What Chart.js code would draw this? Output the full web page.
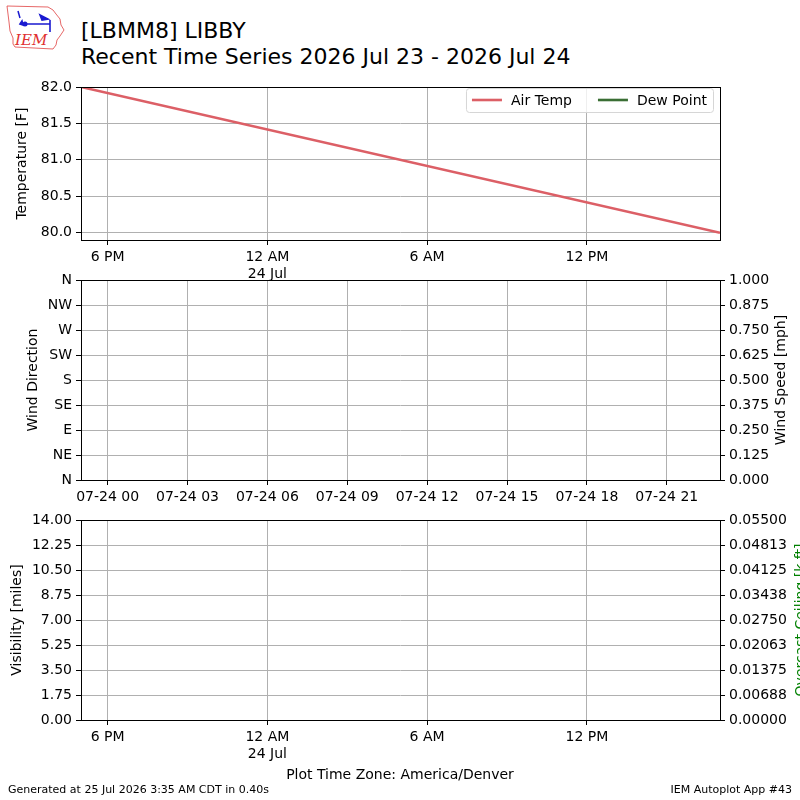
<!DOCTYPE html>
<html>
<head>
<meta charset="utf-8">
<script src="https://cdn.jsdelivr.net/npm/chart.js@4.4.1/dist/chart.umd.min.js"></script>
<style>
body { margin: 0; width: 800px; height: 800px; background: #fff; overflow: hidden; position: relative; font-family: "DejaVu Sans", sans-serif; }
canvas { position: absolute; left: 0; }
.txt { position: absolute; white-space: nowrap; color: #000; }
</style>
</head>
<body>
<svg style="position:absolute;left:0;top:0" width="72" height="54" viewBox="0 0 72 54">
  <path d="M7 6 L48 7 L53 10 L56 14 L60 19 L61 25 L64 30 L60 36 L57 40 L56 45 L53 49 L15 47 L13 44 L13 38 L10 31 L9 22 L8 14 Z" fill="none" stroke="#e04040" stroke-width="0.8"/>
  <path d="M18 11 L20 18" stroke="#1a1ad0" stroke-width="1.5" fill="none"/>
  <circle cx="25" cy="24" r="2.5" fill="#1a1ad0"/>
  <path d="M25 24 L50 24 M50 20 L50 32 M40 15 L48 19 L42 20 Z M20 24 L22 21 L23 25 Z" stroke="#1a1ad0" stroke-width="1.6" fill="#1a1ad0"/>
  <text x="15" y="45" font-family="DejaVu Serif, serif" font-style="italic" font-size="15" fill="#e03030">IEM</text>
</svg>
<div class="txt" style="left:81px;top:17.5px;font-size:22px;line-height:26.5px">[LBMM8] LIBBY<br>Recent Time Series 2026 Jul 23 - 2026 Jul 24</div>

<canvas id="chartTemp" width="800" height="212" style="top:73px"></canvas>
<canvas id="chartWind" width="800" height="244" style="top:266px"></canvas>
<canvas id="chartVis" width="800" height="259" style="top:506px"></canvas>

<div class="txt" style="left:0;width:800px;text-align:center;top:766px;font-size:14px;line-height:17px">Plot Time Zone: America/Denver</div>
<div class="txt" style="left:8px;top:783px;font-size:11px;line-height:14px">Generated at 25 Jul 2026 3:35 AM CDT in 0.40s</div>
<div class="txt" style="right:8px;top:783px;font-size:11px;line-height:14px">IEM Autoplot App #43</div>

<script>
// hours relative to 24 Jul 00:00 America/Denver
var localRange = [-7, 17];
var localTickHours = [-6, 0, 6, 12];
var localTickLabels = ["6 PM", ["12 AM", "24 Jul"], "6 AM", "12 PM"];

// hours relative to 24 Jul 00:00 UTC (wind panel)
var utcRange = [-1, 23];
var utcTickHours = [0, 3, 6, 9, 12, 15, 18, 21];
var utcTickLabels = ["07-24 00", "07-24 03", "07-24 06", "07-24 09", "07-24 12", "07-24 15", "07-24 18", "07-24 21"];

var tempHours = [-7, 17];
var tempValues = [82.0, 80.0];
var dewHours = [];
var dewValues = [];
var tempTicks = [80.0, 80.5, 81.0, 81.5, 82.0];

var windDirHours = [];
var windDirValues = [];
var windSpeedHours = [];
var windSpeedValues = [];
var dirTicks = [0, 45, 90, 135, 180, 225, 270, 315, 360];
var dirTickLabels = ["N", "NE", "E", "SE", "S", "SW", "W", "NW", "N"];
var speedTicks = [0, 0.125, 0.25, 0.375, 0.5, 0.625, 0.75, 0.875, 1.0];

var visHours = [];
var visValues = [];
var ceilHours = [];
var ceilValues = [];
var visTicks = [0, 1.75, 3.5, 5.25, 7, 8.75, 10.5, 12.25, 14];
var ceilTicks = [0, 0.006875, 0.01375, 0.020625, 0.0275, 0.034375, 0.04125, 0.048125, 0.055];
var ceilTickLabels = ["0.00000", "0.00688", "0.01375", "0.02063", "0.02750", "0.03438", "0.04125", "0.04813", "0.05500"];

var FONT = "DejaVu Sans";
var GRID = "#b0b0b0";

function points(xs, ys) {
    var out = [];
    for (var i = 0; i < xs.length; i++) out.push({x: xs[i], y: ys[i]});
    return out;
};

function fixedTicks(values) {
    return function(scale) {
        scale.ticks = values.map(function(v) { return {value: v}; });
    };
};

function axis(extra) {
    var base = {
        type: "linear",
        border: {display: false},
        grid: {color: GRID, lineWidth: 1, tickColor: "#000", tickLength: 5},
        ticks: {color: "#000", font: {family: FONT, size: 14}, padding: 4, autoSkip: false, maxRotation: 0}
    };
    for (var k in extra) {
        if (typeof extra[k] === "object" && base[k] && !Array.isArray(extra[k])) {
            for (var j in extra[k]) base[k][j] = extra[k][j];
        } else {
            base[k] = extra[k];
        }
    }
    return base;
};

// box round the plot, and the right side titles (read bottom to top)
var framePlugin = {
    id: "frame",
    afterDraw: function(chart) {
        var a = chart.chartArea, ctx = chart.ctx;
        ctx.save();
        ctx.strokeStyle = "#000";
        ctx.lineWidth = 1;
        ctx.strokeRect(Math.round(a.left) + 0.5, Math.round(a.top) + 0.5, Math.round(a.right - a.left), Math.round(a.bottom - a.top));
        var side = chart.options.plugins.sideTitle;
        if (side && side.text) {
            ctx.translate(side.x, (a.top + a.bottom) / 2);
            ctx.rotate(-Math.PI / 2);
            ctx.fillStyle = side.color || "#000";
            ctx.font = "14px '" + FONT + "'";
            ctx.textAlign = "center";
            ctx.textBaseline = "middle";
            ctx.fillText(side.text, 0, 0);
        }
        ctx.restore();
    }
};

var legendPlugin = {
    id: "boxLegend",
    afterDraw: function(chart) {
        var opts = chart.options.plugins.boxLegend;
        if (!opts || !opts.display) return;
        var ctx = chart.ctx, a = chart.chartArea;
        ctx.save();
        ctx.font = "14px '" + FONT + "'";
        var sets = chart.data.datasets;
        var w = 12;
        sets.forEach(function(ds, i) { w += 39 + ctx.measureText(ds.label).width + (i > 0 ? 26 : 0); });
        var h = 24, right = a.right - 7, top = a.top + 1, left = right - w;
        ctx.beginPath();
        ctx.roundRect(left + 0.5, top + 0.5, w, h, 3);
        ctx.fillStyle = "rgba(255,255,255,0.8)";
        ctx.fill();
        ctx.strokeStyle = "#d6d6d6";
        ctx.lineWidth = 1;
        ctx.stroke();
        var x = left + 6, y = top + h / 2;
        sets.forEach(function(ds) {
            ctx.strokeStyle = ds.borderColor;
            ctx.lineWidth = ds.borderWidth;
            ctx.beginPath();
            ctx.moveTo(x, y);
            ctx.lineTo(x + 30, y);
            ctx.stroke();
            ctx.fillStyle = "#000";
            ctx.textBaseline = "middle";
            ctx.fillText(ds.label, x + 39, y + 1);
            x += 39 + ctx.measureText(ds.label).width + 26;
        });
        ctx.restore();
    }
};

function lineSet(label, xs, ys, color, axisId) {
    return {
        label: label,
        data: points(xs, ys),
        borderColor: color,
        backgroundColor: color,
        borderWidth: 2.6,
        pointRadius: 0,
        fill: false,
        tension: 0,
        yAxisID: axisId
    };
};

var common = {
    responsive: false,
    animation: false,
    parsing: false
};

var chartTemp = new Chart(document.getElementById("chartTemp").getContext("2d"), {
    type: "line",
    data: {
        datasets: [
            lineSet("Air Temp", tempHours, tempValues, "#dc5f66", "y"),
            lineSet("Dew Point", dewHours, dewValues, "#3a6e34", "y")
        ]
    },
    options: Object.assign({}, common, {
        layout: {padding: {top: 14, right: 80, left: 0, bottom: 0}},
        plugins: {legend: {display: false}, tooltip: {enabled: false}, boxLegend: {display: true}},
        scales: {
            x: axis({
                min: localRange[0], max: localRange[1],
                afterBuildTicks: fixedTicks(localTickHours),
                afterFit: function(s) { s.height = 45; },
                ticks: {callback: function(v, i) { return localTickLabels[i]; }}
            }),
            y: axis({
                min: 79.9, max: 82.0,
                afterBuildTicks: fixedTicks(tempTicks),
                afterFit: function(s) { s.width = 81; },
                ticks: {callback: function(v) { return v.toFixed(1); }},
                title: {display: true, text: "Temperature [F]", color: "#000", font: {family: FONT, size: 14}, padding: {top: 13.6, bottom: 0}}
            })
        }
    }),
    plugins: [framePlugin, legendPlugin]
});

var chartWind = new Chart(document.getElementById("chartWind").getContext("2d"), {
    type: "line",
    data: {
        datasets: [
            lineSet("Wind Direction", windDirHours, windDirValues, "#000", "y"),
            lineSet("Wind Speed", windSpeedHours, windSpeedValues, "#000", "y1")
        ]
    },
    options: Object.assign({}, common, {
        layout: {padding: {top: 14, right: 0, left: 0, bottom: 0}},
        plugins: {legend: {display: false}, tooltip: {enabled: false}, sideTitle: {text: "Wind Speed [mph]", x: 781, color: "#000"}},
        scales: {
            x: axis({
                min: utcRange[0], max: utcRange[1],
                afterBuildTicks: fixedTicks(utcTickHours),
                afterFit: function(s) { s.height = 30; },
                ticks: {callback: function(v, i) { return utcTickLabels[i]; }}
            }),
            y: axis({
                min: 0, max: 360,
                afterBuildTicks: fixedTicks(dirTicks),
                afterFit: function(s) { s.width = 81; },
                ticks: {callback: function(v, i) { return dirTickLabels[i]; }},
                title: {display: true, text: "Wind Direction", color: "#000", font: {family: FONT, size: 14}, padding: {top: 24.6, bottom: 0}}
            }),
            y1: axis({
                position: "right",
                min: 0, max: 1,
                afterBuildTicks: fixedTicks(speedTicks),
                afterFit: function(s) { s.width = 80; },
                grid: {drawOnChartArea: false},
                ticks: {callback: function(v) { return v.toFixed(3); }}
            })
        }
    }),
    plugins: [framePlugin]
});

var chartVis = new Chart(document.getElementById("chartVis").getContext("2d"), {
    type: "line",
    data: {
        datasets: [
            lineSet("Visibility", visHours, visValues, "#000", "y"),
            lineSet("Overcast Ceiling", ceilHours, ceilValues, "#008000", "y1")
        ]
    },
    options: Object.assign({}, common, {
        layout: {padding: {top: 14, right: 0, left: 0, bottom: 0}},
        plugins: {legend: {display: false}, tooltip: {enabled: false}, sideTitle: {text: "Overcast Ceiling [k ft]", x: 801, color: "#008000"}},
        scales: {
            x: axis({
                min: localRange[0], max: localRange[1],
                afterBuildTicks: fixedTicks(localTickHours),
                afterFit: function(s) { s.height = 45; },
                ticks: {callback: function(v, i) { return localTickLabels[i]; }}
            }),
            y: axis({
                min: 0, max: 14,
                afterBuildTicks: fixedTicks(visTicks),
                afterFit: function(s) { s.width = 81; },
                ticks: {callback: function(v) { return v.toFixed(2); }},
                title: {display: true, text: "Visibility [miles]", color: "#000", font: {family: FONT, size: 14}, padding: {top: 9, bottom: 0}}
            }),
            y1: axis({
                position: "right",
                min: 0, max: 0.055,
                afterBuildTicks: fixedTicks(ceilTicks),
                afterFit: function(s) { s.width = 80; },
                grid: {drawOnChartArea: false},
                ticks: {callback: function(v, i) { return ceilTickLabels[i]; }}
            })
        }
    }),
    plugins: [framePlugin]
});
</script>
</body>
</html>
